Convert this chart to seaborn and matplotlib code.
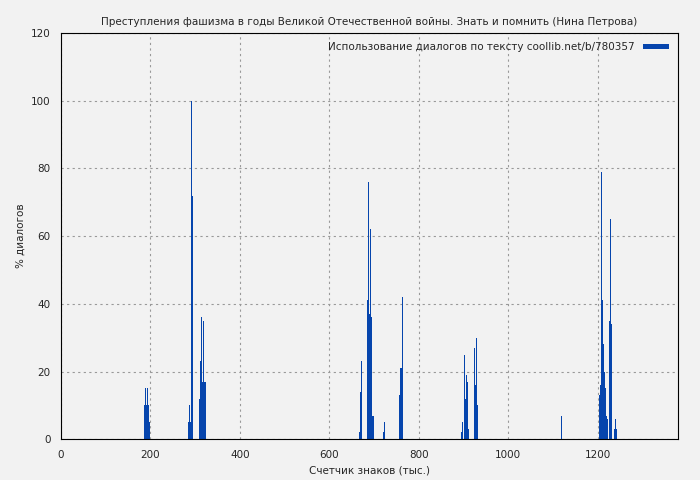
import matplotlib
matplotlib.use("Agg")
import matplotlib.pyplot as plt
import seaborn as sns
import pandas as pd

# positions (thousand chars) and dialog share (%)
x1 = [187, 189, 191, 193, 195, 197]
y1 = [10, 15, 10, 15, 10, 5]
x2 = [285, 287, 289, 291, 293, 295, 309, 311, 313, 315, 317, 319, 321, 323]
y2 = [5, 10, 5, 57, 100, 72, 12, 23, 7, 36, 17, 35, 17, 17]
x3 = [667, 669, 671, 686, 688, 690, 692, 694, 696, 698, 721, 723, 757, 759, 761, 763]
y3 = [2, 14, 23, 41, 76, 37, 62, 36, 7, 7, 2, 5, 13, 21, 21, 42]
x4 = [895, 897, 901, 903, 905, 907, 909, 911, 925, 927, 929, 931]
y4 = [2, 5, 3, 25, 12, 19, 17, 3, 27, 16, 30, 10]
x5 = [1118, 1120]
y5 = [3, 7]
x6 = [1204, 1206, 1209, 1211, 1213, 1215, 1217, 1219, 1221, 1227, 1229, 1231, 1237, 1239, 1241]
y6 = [13, 16, 79, 41, 28, 20, 15, 7, 6, 35, 65, 34, 3, 6, 3]

df = pd.DataFrame({"x": x1 + x2 + x3 + x4 + x5 + x6,
                   "y": y1 + y2 + y3 + y4 + y5 + y6})

sns.set_style("white")
plt.rcParams['font.family'] = ['DejaVu Sans']
fig, ax = plt.subplots(figsize=(7, 4.8), dpi=100)
fig.patch.set_facecolor("#f2f2f2")
ax.set_facecolor("#f2f2f2")

ax.bar(df["x"], df["y"], width=2.2, color="#0645ad", linewidth=0,
       label="Использование диалогов по тексту coollib.net/b/780357")

ax.set_xlim(0, 1380)
ax.set_ylim(0, 120)
ax.set_xticks(range(0, 1400, 200))
ax.set_yticks(range(0, 121, 20))
ax.grid(True, color="#999999", linestyle=(0, (2, 3)), linewidth=0.8)
ax.set_axisbelow(True)
for s in ax.spines.values():
    s.set_color("black")
ax.tick_params(labelsize=7.5, direction="out", length=4)
ax.set_title("Преступления фашизма в годы Великой Отечественной войны. Знать и помнить (Нина Петрова)", fontsize=7.5)
ax.set_xlabel("Счетчик знаков (тыс.)", fontsize=7.5)
ax.set_ylabel("% диалогов", fontsize=7.5)
leg = ax.legend(loc="upper right", fontsize=7.5, frameon=False, markerfirst=False,
                handlelength=2.5, handleheight=0.4)

plt.subplots_adjust(left=0.087, right=0.969, top=0.931, bottom=0.085)
fig.savefig("out.png", dpi=100, facecolor=fig.get_facecolor())
